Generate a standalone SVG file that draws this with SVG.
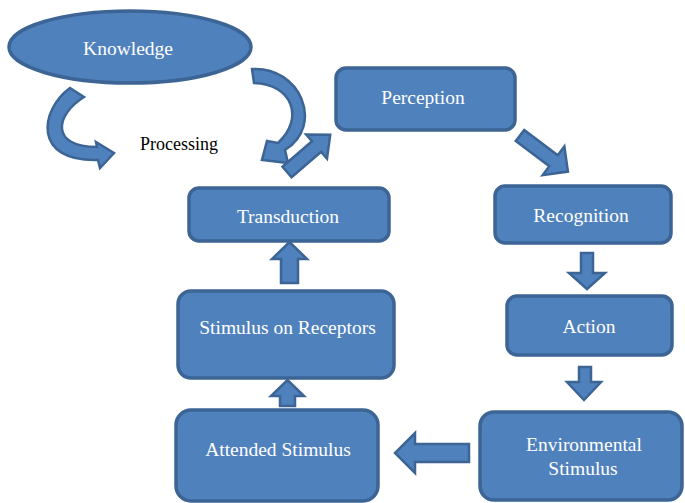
<svg xmlns="http://www.w3.org/2000/svg" width="685" height="503" viewBox="0 0 685 503">
  <style>
    .box { fill: #4f81bd; stroke: #3c6494; stroke-width: 3.5; }
    .arrow { fill: #4f81bd; stroke: #3c6494; stroke-width: 2.5; stroke-linejoin: miter; }
    .label { font-family: "Liberation Serif", "Times New Roman", serif; font-size: 19.5px; fill: #ffffff; text-anchor: middle; }
    .note { font-family: "Liberation Serif", "Times New Roman", serif; font-size: 18px; fill: #000000; }
  </style>
  <rect width="685" height="503" fill="#ffffff"/>

  <g id="knowledge">
    <ellipse class="box" cx="130" cy="47" rx="121" ry="36"/>
    <text class="label" x="128" y="55">Knowledge</text>
  </g>

  <g id="processing">
    <text class="note" x="140" y="150">Processing</text>
  </g>

  <g id="perception">
    <rect class="box" x="336" y="68" width="179" height="62" rx="10"/>
    <text class="label" x="423" y="104">Perception</text>
  </g>

  <g id="recognition">
    <rect class="box" x="495" y="186" width="176" height="57" rx="10"/>
    <text class="label" x="581" y="222">Recognition</text>
  </g>

  <g id="action">
    <rect class="box" x="507" y="296" width="165" height="59" rx="10"/>
    <text class="label" x="589" y="333">Action</text>
  </g>

  <g id="environmental-stimulus">
    <rect class="box" x="480" y="412" width="202" height="88" rx="14"/>
    <text class="label" x="584" y="451">Environmental</text>
    <text class="label" x="583" y="475">Stimulus</text>
  </g>

  <g id="attended-stimulus">
    <rect class="box" x="176" y="410" width="202" height="91" rx="15"/>
    <text class="label" x="278" y="456">Attended Stimulus</text>
  </g>

  <g id="stimulus-on-receptors">
    <rect class="box" x="178" y="291" width="216" height="87" rx="13"/>
    <text class="label" x="287.5" y="334">Stimulus on Receptors</text>
  </g>

  <g id="transduction">
    <rect class="box" x="189" y="188" width="200" height="53" rx="10"/>
    <text class="label" x="288" y="223">Transduction</text>
  </g>

  <g id="connectors">
    <!-- curved loop arrows around Knowledge -->
    <path class="arrow" d="M84,97 L70,88 C40,110 32,162 98,160 L100,168 L114,153 L96,142 L97,147 C50,147 55,115 84,97 Z"/>
    <path class="arrow" d="M252,69 C300,66 325,125 285,150 L288,163 L262,160 L267,141 L278,143 C305,118 292,84 254,83 Z"/>
    <!-- Transduction to Perception -->
    <polygon class="arrow" points="0,-7 39,-7 39,-16 57,0 39,16 39,7 0,7" transform="translate(287,172) rotate(-40.7)"/>
    <!-- Perception to Recognition -->
    <polygon class="arrow" points="0,-7 42,-7 42,-18 60,0 42,18 42,7 0,7" transform="translate(520,135.5) rotate(37)"/>
    <!-- Recognition to Action -->
    <polygon class="arrow" points="581,253 593,253 593,273 605,273 587,289 569,273 581,273"/>
    <!-- Action to Environmental Stimulus -->
    <polygon class="arrow" points="579,367 591,367 591,382 601,382 584,400 567,382 579,382"/>
    <!-- Environmental Stimulus to Attended Stimulus -->
    <polygon class="arrow" points="469,444 469,462 415,462 415,473 395,453 415,433 415,444"/>
    <!-- Attended Stimulus to Stimulus on Receptors -->
    <polygon class="arrow" points="280,406 295,406 295,396 304,396 287.5,380 271,396 280,396"/>
    <!-- Stimulus on Receptors to Transduction -->
    <polygon class="arrow" points="281,283 298,283 298,259 307,259 289.5,242 272,259 281,259"/>
  </g>
</svg>
